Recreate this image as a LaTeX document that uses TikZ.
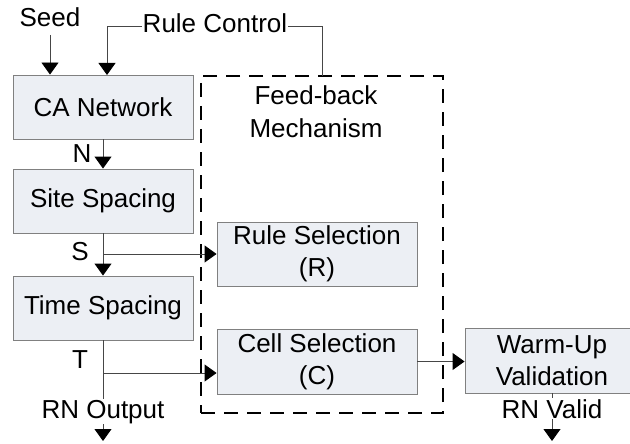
\documentclass[tikz,border=0pt]{standalone}
\usepackage{fontspec}
\setmainfont{Liberation Sans}
\usetikzlibrary{arrows.meta,calc}
\definecolor{boxfill}{RGB}{236,239,244}
\definecolor{boxline}{RGB}{128,128,128}
\definecolor{conn}{RGB}{70,70,70}
\tikzset{
  blk/.style={draw=boxline, fill=boxfill, line width=0.9pt, align=center, inner sep=0pt},
  lbl/.style={inner sep=0pt, anchor=base},
  conline/.style={draw=conn, line width=0.9pt},
  arr/.style={conline, -{Triangle[width=17pt,length=12pt,color=black]}},
  fbbox/.style={draw=black, line width=1.8pt, dash pattern=on 14pt off 9pt, inner sep=0pt}
}
\begin{document}
\begin{tikzpicture}[x=1pt,y=-1pt, font=\fontsize{26}{32}\selectfont]
\useasboundingbox (0,0) rectangle (630,444);
% dashed feedback box
\node[fbbox, minimum width=242pt, minimum height=337pt] (fb) at (322,244.5) {};
\node[lbl, align=center] (fbtxt) at (316,105) {Feed-back};
\node[lbl] (fbtxt2) at (316,137) {Mechanism};
% blocks
\node[blk, minimum width=180pt, minimum height=64pt] (ca) at (103,107) {CA Network};
\node[blk, minimum width=180pt, minimum height=64pt] (site) at (103,201) {Site Spacing};
\node[blk, minimum width=180pt, minimum height=64pt] (time) at (103,308) {Time Spacing};
\node[blk, minimum width=200pt, minimum height=64pt] (rule) at (317,254) {Rule Selection\\(R)};
\node[blk, minimum width=200pt, minimum height=65pt] (cell) at (317,361.5) {Cell Selection\\(C)};
\node[blk, minimum width=174pt, minimum height=65pt] (warm) at (552,360.5) {Warm-Up\\Validation};
% labels
\node[lbl] (seed) at (50,27) {Seed};
\node[lbl, inner xsep=1pt] (rc) at (215,33) {Rule Control};
\node[lbl] (nl) at (82,162) {N};
\node[lbl] (sl) at (80,260) {S};
\node[lbl] (tl) at (80,368) {T};
\coordinate (seedtop) at (50,35);
\coordinate (catap) at (107,75);
\coordinate (fbtap) at (322,76);
\coordinate (rcl) at (rc.west |- 0,26);
\coordinate (rcr) at (rc.east |- 0,26);
\coordinate (outend) at (103,441);
\coordinate (validend) at (552,441);
% connectors
\draw[arr] (seedtop) -- (seedtop |- ca.north);
\draw[arr] (rcl) -| (catap);
\draw[conline] (rcr) -| (fbtap);
\draw[arr] (ca.south) -- (site.north);
\draw[arr] (site.south) -- (time.north);
\draw[arr] (site.south |- rule.west) -- (rule.west);
\draw[arr] (time.south) -- (outend);
\draw[arr] ($(time.south |- cell.west)+(0,11.5)$) -- ($(cell.west)+(0,11.5)$);
\draw[arr] (cell.east) -- (cell.east -| warm.west);
\draw[arr] (warm.south) -- (validend);
\node[lbl, fill=white, inner sep=1pt] (rnout) at (103,418) {RN Output};
\node[lbl, fill=white, inner sep=1pt] (rnvalid) at (552,418) {RN Valid};
\end{tikzpicture}
\end{document}
